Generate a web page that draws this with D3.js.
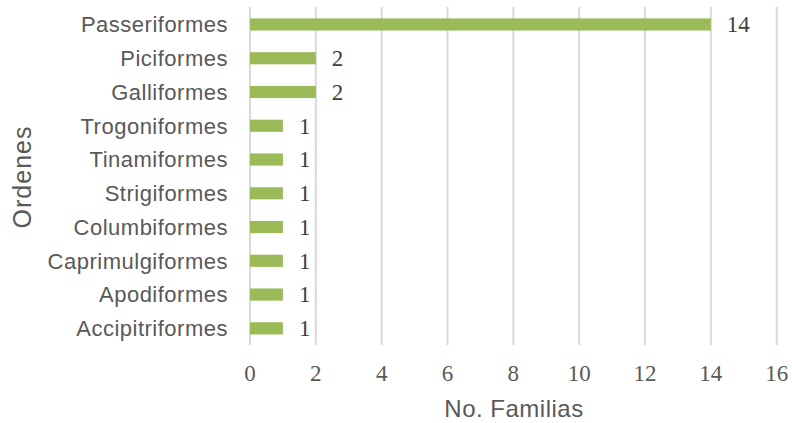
<!DOCTYPE html>
<html><head><meta charset="utf-8">
<script src="https://cdn.jsdelivr.net/npm/d3@7"></script>
<style>body{margin:0;background:#fff}</style>
</head><body><svg id="c" width="792" height="423"></svg>
<script>
const categories = ["Passeriformes","Piciformes","Galliformes","Trogoniformes","Tinamiformes","Strigiformes","Columbiformes","Caprimulgiformes","Apodiformes","Accipitriformes"];
const values = [14,2,2,1,1,1,1,1,1,1];
const xTicks = [0,2,4,6,8,10,12,14,16];

const svg = d3.select("#c");
const x = d3.scaleLinear().domain([0,16]).range([250,776.7]);
const y = d3.scaleBand().domain(categories).range([7.6,345.2]).paddingInner(0.64).paddingOuter(0.32);

svg.append("g").selectAll("line").data(xTicks).join("line")
  .attr("x1",d=>x(d)).attr("x2",d=>x(d)).attr("y1",7).attr("y2",345)
  .attr("stroke","#d9d9d9").attr("stroke-width",2);

svg.append("g").selectAll("rect").data(values).join("rect")
  .attr("x",x(0)).attr("y",(d,i)=>y(categories[i]))
  .attr("width",d=>x(d)-x(0)).attr("height",y.bandwidth())
  .attr("fill","#9BBB59");

svg.append("g").selectAll("text").data(values).join("text")
  .attr("x",d=>x(d)+16).attr("y",(d,i)=>y(categories[i])+y.bandwidth()/2)
  .attr("dy","0.34em").attr("font-family","Liberation Serif").attr("font-size",23)
  .attr("fill","#404040").text(d=>d);

svg.append("g").selectAll("text").data(categories).join("text")
  .attr("x",228).attr("y",d=>y(d)+y.bandwidth()/2).attr("dy","0.36em")
  .attr("text-anchor","end").attr("font-family","Liberation Sans").attr("font-size",22)
  .attr("letter-spacing","0.5px")
  .attr("fill","#595959").text(d=>d);

svg.append("g").selectAll("text").data(xTicks).join("text")
  .attr("x",d=>x(d)).attr("y",373).attr("dy","0.34em").attr("text-anchor","middle")
  .attr("font-family","Liberation Serif").attr("font-size",23).attr("fill","#595959").text(d=>d);

svg.append("text").attr("x",514).attr("y",408).attr("dy","0.36em").attr("text-anchor","middle")
  .attr("font-family","Liberation Sans").attr("font-size",24).attr("letter-spacing","0.5px").attr("fill","#595959").text("No. Familias");

svg.append("text").attr("transform","translate(22,177) rotate(-90)").attr("dy","0.36em").attr("text-anchor","middle")
  .attr("font-family","Liberation Sans").attr("font-size",25).attr("letter-spacing","1px").attr("fill","#595959").text("Ordenes");
</script></body></html>
